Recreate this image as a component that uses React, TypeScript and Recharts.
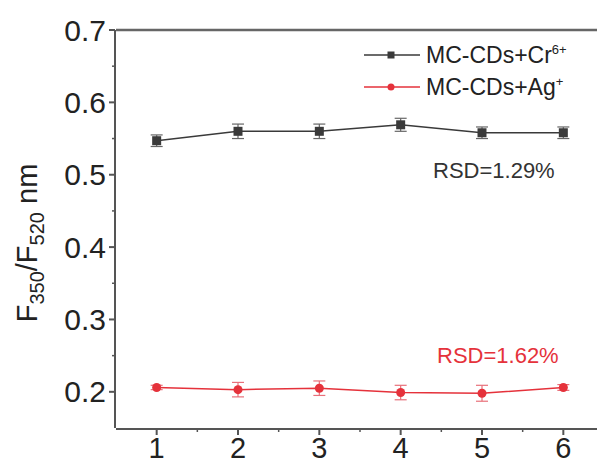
import { LineChart, Line, XAxis, YAxis, ErrorBar, ReferenceLine } from "recharts";

const runs = [1, 2, 3, 4, 5, 6];
const crRatio = [0.547, 0.56, 0.56, 0.569, 0.558, 0.558];
const crErr = [0.008, 0.01, 0.01, 0.009, 0.008, 0.008];
const agRatio = [0.206, 0.203, 0.205, 0.199, 0.198, 0.206];
const agErr = [0.003, 0.01, 0.01, 0.01, 0.011, 0.004];
const xTicks = [1, 2, 3, 4, 5, 6];
const xMinorTicks = [1.5, 2.5, 3.5, 4.5, 5.5];
const yTicks = [0.2, 0.3, 0.4, 0.5, 0.6, 0.7];
const yMinorTicks = [0.25, 0.35, 0.45, 0.55, 0.65];

const data = runs.map((run, i) => ({
  run,
  cr: crRatio[i],
  crErr: crErr[i],
  ag: agRatio[i],
  agErr: agErr[i],
}));

const FONT = '"Liberation Sans", Arial, sans-serif';
const BLACK = "#3a3a3a";
const RED = "#e5323b";
const AXIS = "#555";

function SquareDot(props: any) {
  const { cx, cy } = props;
  if (cx == null || cy == null) return null;
  return <rect x={cx - 4.5} y={cy - 4.5} width={9} height={9} fill={BLACK} />;
}

function LegendBox() {
  const row = (color: string, square: boolean, label: React.ReactNode) => (
    <div style={{ display: "flex", alignItems: "center", height: 32 }}>
      <svg width={56} height={12}>
        <line x1={0} y1={6} x2={56} y2={6} stroke={color} strokeWidth={1.5} />
        {square ? (
          <rect x={23.5} y={2.5} width={7} height={7} fill={color} />
        ) : (
          <circle cx={27} cy={6} r={3.5} fill={color} />
        )}
      </svg>
      <span style={{ marginLeft: 6, fontSize: 23, color: "#222" }}>{label}</span>
    </div>
  );
  return (
    <div style={{ position: "absolute", left: 364, top: 39 }}>
      {row(BLACK, true, <>MC-CDs+Cr<sup style={{ fontSize: 13 }}>6+</sup></>)}
      {row(RED, false, <>MC-CDs+Ag<sup style={{ fontSize: 13 }}>+</sup></>)}
    </div>
  );
}

export default function App() {
  return (
    <div
      style={{
        position: "absolute",
        left: 0,
        top: 0,
        width: 597,
        height: 463,
        overflow: "hidden",
        background: "#fff",
        fontFamily: FONT,
      }}
    >
      <LineChart
        width={620}
        height={463}
        data={data}
        margin={{ top: 30, right: 16, bottom: 0, left: 36 }}
      >
        {/* minor-tick axes ("aux") sit against the plot; 1px because 0 is not drawn */}
        <XAxis
          xAxisId="aux"
          dataKey="run"
          type="number"
          domain={[0.5, 6.5]}
          allowDataOverflow
          ticks={xMinorTicks}
          height={1}
          tickSize={4}
          axisLine={false}
          tickLine={{ stroke: AXIS, strokeWidth: 1.5 }}
          tickFormatter={() => ""}
        />
        <XAxis
          xAxisId="main"
          dataKey="run"
          type="number"
          domain={[0.5, 6.5]}
          allowDataOverflow
          ticks={xTicks}
          height={34}
          tickSize={6}
          tickMargin={2}
          axisLine={{ stroke: AXIS, strokeWidth: 2 }}
          tickLine={{ stroke: AXIS, strokeWidth: 2 }}
          tick={{ fill: "#222", fontSize: 29, fontFamily: FONT }}
        />
        <YAxis
          yAxisId="aux"
          type="number"
          domain={[0.15, 0.7]}
          allowDataOverflow
          ticks={yMinorTicks}
          width={1}
          tickSize={4}
          axisLine={false}
          tickLine={{ stroke: AXIS, strokeWidth: 1.5 }}
          tickFormatter={() => ""}
        />
        <YAxis
          yAxisId="main"
          type="number"
          domain={[0.15, 0.7]}
          allowDataOverflow
          ticks={yTicks}
          width={79}
          tickSize={6}
          tickMargin={3}
          axisLine={{ stroke: AXIS, strokeWidth: 2 }}
          tickLine={{ stroke: AXIS, strokeWidth: 2 }}
          tick={{ fill: "#222", fontSize: 30, fontFamily: FONT }}
          tickFormatter={(v: number) => v.toFixed(1)}
        />
        <ReferenceLine xAxisId="main" yAxisId="main" y={0.7} stroke="#666" strokeWidth={2.5} />
        {/* invisible series so the minor-tick axes get a domain */}
        <Line
          xAxisId="aux"
          yAxisId="aux"
          dataKey="cr"
          stroke="none"
          dot={false}
          activeDot={false}
          legendType="none"
          isAnimationActive={false}
        />
        <Line
          xAxisId="main"
          yAxisId="main"
          dataKey="cr"
          stroke={BLACK}
          strokeWidth={1.5}
          dot={<SquareDot />}
          isAnimationActive={false}
        >
          <ErrorBar dataKey="crErr" direction="y" width={6} stroke="#666" strokeWidth={1.2} />
        </Line>
        <Line
          xAxisId="main"
          yAxisId="main"
          dataKey="ag"
          stroke={RED}
          strokeWidth={1.5}
          dot={{ r: 4.5, fill: RED, stroke: RED, strokeWidth: 0 }}
          isAnimationActive={false}
        >
          <ErrorBar dataKey="agErr" direction="y" width={6} stroke="#e8707a" strokeWidth={1.2} />
        </Line>
      </LineChart>
      <LegendBox />
      <div
        style={{
          position: "absolute",
          left: 30,
          top: 243,
          transform: "translate(-50%, -50%) rotate(-90deg)",
          whiteSpace: "nowrap",
          fontSize: 29,
          color: "#222",
        }}
      >
        F<sub style={{ fontSize: 20 }}>350</sub>/F<sub style={{ fontSize: 20 }}>520</sub> nm
      </div>
      <div style={{ position: "absolute", left: 433, top: 158, fontSize: 22, color: "#333" }}>
        RSD=1.29%
      </div>
      <div style={{ position: "absolute", left: 437, top: 343, fontSize: 22, color: RED }}>
        RSD=1.62%
      </div>
    </div>
  );
}
